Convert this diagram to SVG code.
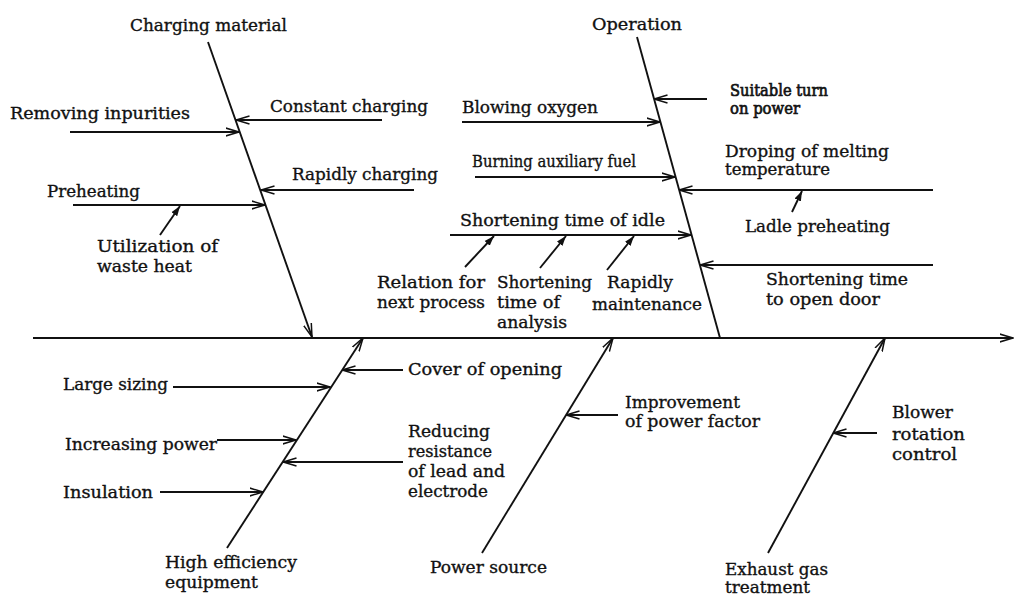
<svg xmlns="http://www.w3.org/2000/svg" width="1015" height="596" viewBox="0 0 1015 596">
<style>
.t{font-family:"DejaVu Serif","Liberation Serif",serif;font-size:16.5px;fill:#111;stroke:#111;stroke-width:0.35}
.b{stroke-width:0.7}
.ln{stroke:#111;stroke-width:1.9;fill:none}
.op{marker-end:url(#open)}
.fl{marker-end:url(#fill)}
</style>
<defs>
<marker id="open" viewBox="0 0 14 10" refX="13.5" refY="5" markerWidth="14" markerHeight="10" markerUnits="userSpaceOnUse" orient="auto">
<path d="M0,1 L13.5,5 L0,9" fill="none" stroke="#111" stroke-width="1.5"/>
</marker>
<marker id="fill" viewBox="0 0 10 8" refX="10" refY="4" markerWidth="10" markerHeight="8" markerUnits="userSpaceOnUse" orient="auto">
<path d="M0,0.5 L10,4 L0,7.5 Z" fill="#111"/>
</marker>
</defs>
<rect width="1015" height="596" fill="#fff"/>
<g id="connectors">
<line class="ln op" x1="33" y1="338" x2="1013" y2="338"/>
<line class="ln op" x1="208" y1="42" x2="312" y2="337"/>
<line class="ln" x1="637" y1="37" x2="720" y2="338"/>
<line class="ln op" x1="227" y1="548" x2="363" y2="338"/>
<line class="ln op" x1="482" y1="553" x2="613" y2="338"/>
<line class="ln op" x1="768" y1="553" x2="885" y2="338"/>
<line class="ln op" x1="70" y1="132" x2="239" y2="132"/>
<line class="ln op" x1="382" y1="120" x2="236" y2="120"/>
<line class="ln op" x1="414" y1="190" x2="261" y2="190"/>
<line class="ln op" x1="73" y1="205" x2="265" y2="205"/>
<line class="ln fl" x1="160" y1="235" x2="180" y2="206"/>
<line class="ln op" x1="707" y1="99" x2="654" y2="99"/>
<line class="ln op" x1="462" y1="122" x2="660" y2="122"/>
<line class="ln op" x1="475" y1="177" x2="675" y2="177"/>
<line class="ln op" x1="933" y1="190" x2="679" y2="190"/>
<line class="ln fl" x1="792" y1="212" x2="802" y2="191"/>
<line class="ln op" x1="450" y1="235" x2="691" y2="235"/>
<line class="ln fl" x1="465" y1="267" x2="494" y2="236"/>
<line class="ln fl" x1="540" y1="268" x2="566" y2="236"/>
<line class="ln fl" x1="607" y1="270" x2="634" y2="236"/>
<line class="ln op" x1="933" y1="265" x2="700" y2="265"/>
<line class="ln op" x1="403" y1="370" x2="342" y2="370"/>
<line class="ln op" x1="173" y1="387" x2="330" y2="387"/>
<line class="ln op" x1="217" y1="440" x2="296" y2="440"/>
<line class="ln op" x1="403" y1="462" x2="283" y2="462"/>
<line class="ln op" x1="160" y1="492" x2="263" y2="492"/>
<line class="ln op" x1="618" y1="415" x2="566" y2="415"/>
<line class="ln op" x1="877" y1="433" x2="833" y2="433"/>
</g>
<g id="charging-material"><text class="t" x="130" y="31" textLength="157" lengthAdjust="spacingAndGlyphs">Charging material</text></g>
<g id="removing-inpurities"><text class="t" x="10" y="119" textLength="180" lengthAdjust="spacingAndGlyphs">Removing inpurities</text></g>
<g id="constant-charging"><text class="t" x="270" y="112" textLength="158" lengthAdjust="spacingAndGlyphs">Constant charging</text></g>
<g id="rapidly-charging"><text class="t" x="292" y="180" textLength="146" lengthAdjust="spacingAndGlyphs">Rapidly charging</text></g>
<g id="preheating"><text class="t" x="47" y="197" textLength="93" lengthAdjust="spacingAndGlyphs">Preheating</text></g>
<g id="utilization"><text class="t" x="97" y="252" textLength="121" lengthAdjust="spacingAndGlyphs">Utilization of</text><text class="t" x="97" y="272" textLength="95" lengthAdjust="spacingAndGlyphs">waste heat</text></g>
<g id="operation"><text class="t" x="592" y="30" textLength="90" lengthAdjust="spacingAndGlyphs">Operation</text></g>
<g id="suitable-turn"><text class="t b" x="730" y="96" textLength="98" lengthAdjust="spacingAndGlyphs">Suitable turn</text><text class="t b" x="730" y="114" textLength="70" lengthAdjust="spacingAndGlyphs">on power</text></g>
<g id="blowing-oxygen"><text class="t" x="462" y="113" textLength="136" lengthAdjust="spacingAndGlyphs">Blowing oxygen</text></g>
<g id="burning-fuel"><text class="t" x="472" y="167" textLength="164" lengthAdjust="spacingAndGlyphs">Burning auxiliary fuel</text></g>
<g id="droping"><text class="t" x="725" y="157" textLength="164" lengthAdjust="spacingAndGlyphs">Droping of melting</text><text class="t" x="725" y="175" textLength="105" lengthAdjust="spacingAndGlyphs">temperature</text></g>
<g id="ladle"><text class="t" x="745" y="232" textLength="145" lengthAdjust="spacingAndGlyphs">Ladle preheating</text></g>
<g id="shortening-idle"><text class="t" x="460" y="226" textLength="205" lengthAdjust="spacingAndGlyphs">Shortening time of idle</text></g>
<g id="relation"><text class="t" x="377" y="288" textLength="108" lengthAdjust="spacingAndGlyphs">Relation for</text><text class="t" x="377" y="308" textLength="108" lengthAdjust="spacingAndGlyphs">next process</text></g>
<g id="analysis"><text class="t" x="497" y="288" textLength="95" lengthAdjust="spacingAndGlyphs">Shortening</text><text class="t" x="497" y="308" textLength="63" lengthAdjust="spacingAndGlyphs">time of</text><text class="t" x="497" y="328" textLength="70" lengthAdjust="spacingAndGlyphs">analysis</text></g>
<g id="maintenance"><text class="t" x="607" y="288" textLength="66" lengthAdjust="spacingAndGlyphs">Rapidly</text><text class="t" x="592" y="310" textLength="110" lengthAdjust="spacingAndGlyphs">maintenance</text></g>
<g id="open-door"><text class="t" x="766" y="285" textLength="142" lengthAdjust="spacingAndGlyphs">Shortening time</text><text class="t" x="766" y="305" textLength="114" lengthAdjust="spacingAndGlyphs">to open door</text></g>
<g id="large-sizing"><text class="t" x="63" y="390" textLength="105" lengthAdjust="spacingAndGlyphs">Large sizing</text></g>
<g id="increasing-power"><text class="t" x="65" y="450" textLength="152" lengthAdjust="spacingAndGlyphs">Increasing power</text></g>
<g id="insulation"><text class="t" x="63" y="498" textLength="90" lengthAdjust="spacingAndGlyphs">Insulation</text></g>
<g id="high-efficiency"><text class="t" x="165" y="568" textLength="132" lengthAdjust="spacingAndGlyphs">High efficiency</text><text class="t" x="165" y="588" textLength="93" lengthAdjust="spacingAndGlyphs">equipment</text></g>
<g id="cover"><text class="t" x="408" y="375" textLength="154" lengthAdjust="spacingAndGlyphs">Cover of opening</text></g>
<g id="reducing"><text class="t" x="408" y="437" textLength="82" lengthAdjust="spacingAndGlyphs">Reducing</text><text class="t" x="408" y="457" textLength="84" lengthAdjust="spacingAndGlyphs">resistance</text><text class="t" x="408" y="477" textLength="97" lengthAdjust="spacingAndGlyphs">of lead and</text><text class="t" x="408" y="497" textLength="80" lengthAdjust="spacingAndGlyphs">electrode</text></g>
<g id="improvement"><text class="t" x="625" y="408" textLength="115" lengthAdjust="spacingAndGlyphs">Improvement</text><text class="t" x="625" y="427" textLength="135" lengthAdjust="spacingAndGlyphs">of power factor</text></g>
<g id="power-source"><text class="t" x="430" y="573" textLength="117" lengthAdjust="spacingAndGlyphs">Power source</text></g>
<g id="blower"><text class="t" x="892" y="418" textLength="61" lengthAdjust="spacingAndGlyphs">Blower</text><text class="t" x="892" y="440" textLength="73" lengthAdjust="spacingAndGlyphs">rotation</text><text class="t" x="892" y="460" textLength="65" lengthAdjust="spacingAndGlyphs">control</text></g>
<g id="exhaust"><text class="t" x="725" y="575" textLength="103" lengthAdjust="spacingAndGlyphs">Exhaust gas</text><text class="t" x="725" y="593" textLength="85" lengthAdjust="spacingAndGlyphs">treatment</text></g>
</svg>
